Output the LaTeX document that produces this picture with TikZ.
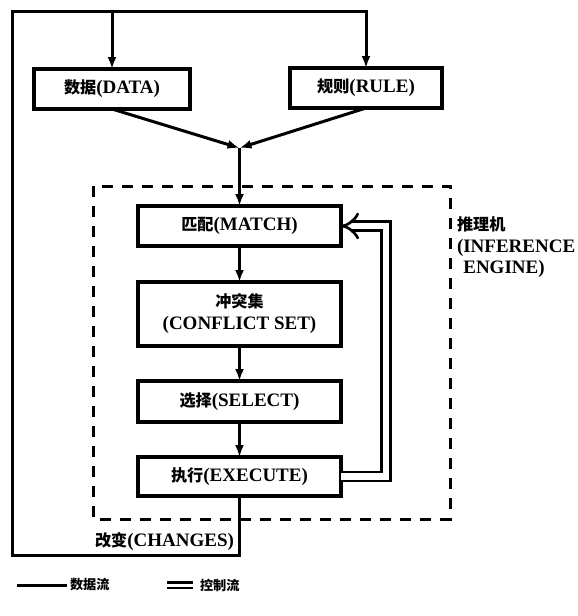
\documentclass[tikz,border=0pt]{standalone}
\usepackage{fontspec}
\setmainfont{Liberation Serif}
\newfontfamily\cjk[Scale=0.85]{Noto Sans CJK SC}
\usetikzlibrary{arrows.meta}

\begin{document}
\begin{tikzpicture}[y=1pt, x=1pt, yscale=-1, inner sep=0pt, outer sep=0pt,
  box/.style={draw=black, line width=3.2pt, minimum width=203pt, minimum height=40pt,
    align=center, font=\fontsize{19}{22}\selectfont\bfseries},
  flow/.style={draw=black, line join=miter, line cap=butt, line width=3pt},
  flowtip/.style={flow, -{Latex[length=12pt,width=9pt]}},
  ctrl/.style={draw=black, line join=miter, line width=2.6pt, double, double distance=6.5pt},
  label/.style={font=\fontsize{19}{21.5}\selectfont\bfseries},
  legend/.style={font=\fontsize{15.5}{18}\selectfont\bfseries\cjk}]
  \useasboundingbox (0,0) rectangle (578,616);

  % inference engine frame
  \path[draw=black, line width=3pt, dash pattern=on 11pt off 9pt]
  (93,186) rectangle (450,519);

  % knowledge base
  \path (112,89) node[box, minimum width=156pt] (box-data) {{\cjk 数据}(DATA)};
  \path (366,88) node[box, minimum width=152pt] (box-rule) {{\cjk 规则}(RULE)};

  % recognise-act cycle
  \path (239.5,226) node[box] (box-match) {{\cjk 匹配}(MATCH)};
  \path (239.5,314) node[box, minimum height=64pt] (box-conflict)
  {{\cjk 冲突集}\\(CONFLICT SET)};
  \path (239.5,401.5) node[box, minimum height=41pt] (box-select) {{\cjk 选择}(SELECT)};
  \path (239.5,476.5) node[box, minimum height=39pt] (box-execute) {{\cjk 执行}(EXECUTE)};

  \coordinate (merge) at (239.5,148);
  \coordinate (loop-tl) at (12,11);
  \coordinate (loop-tr) at (366,11);
  \coordinate (loop-bl) at (12,555);

  % data flow
  \path[flowtip] (box-data.south) -- (merge);
  \path[flowtip] (box-rule.south) -- (merge);
  \path[flowtip] (merge) -- (box-match.north);
  \path[flowtip] (box-match.south) -- (box-conflict.north);
  \path[flowtip] (box-conflict.south) -- (box-select.north);
  \path[flowtip] (box-select.south) -- (box-execute.north);
  \path[flowtip] (box-execute.south) |- (loop-bl) -- (loop-tl) -- (loop-tr)
  -- (box-rule.north);
  \path[flowtip] (box-data.north |- loop-tl) -- (box-data.north);

  % control flow
  \path[ctrl, -{Implies}] (box-execute.east) -- ++(45,0) |- (box-match.east);

  \path (234,542) node[anchor=east, label] (text-changes) {{\cjk 改变}(CHANGES)};
  \path (457,217) node[anchor=north west, label, align=left] (text-engine)
  {{\cjk 推理机}\\(INFERENCE\\\hphantom{(}ENGINE)};

  % legend
  \path (70,585) node[anchor=west, legend] (text-dataflow) {数据流};
  \path (200,585) node[anchor=west, legend] (text-ctrlflow) {控制流};
  \path[flow, shorten >=3pt] (17,585) -- (text-dataflow.west);
  \path[draw=black, line width=2.2pt, double, double distance=3pt, shorten >=7pt]
  (167,585) -- (text-ctrlflow.west);
\end{tikzpicture}
\end{document}
